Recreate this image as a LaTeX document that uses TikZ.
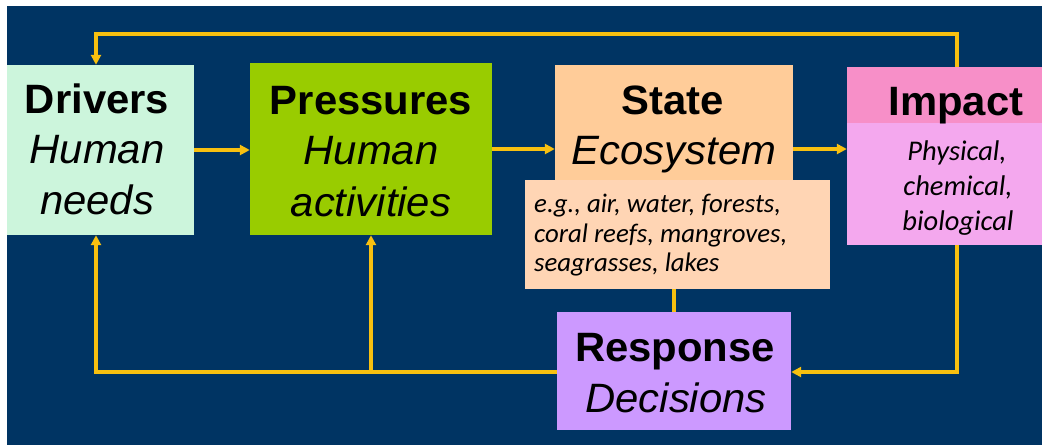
\documentclass[tikz,border=0pt]{standalone}
\usepackage{fontspec}
\setmainfont{Liberation Sans}
\newfontfamily\hf[FakeStretch=1.02]{Liberation Sans}
\newfontfamily\cf{Carlito}
\usetikzlibrary{arrows.meta}
\definecolor{bgc}{HTML}{003463}
\definecolor{drvc}{HTML}{CCF5DC}
\definecolor{prsc}{HTML}{99CC00}
\definecolor{stc}{HTML}{FFCC99}
\definecolor{egc}{HTML}{FFD5B4}
\definecolor{imphc}{HTML}{F78FC8}
\definecolor{impbc}{HTML}{F4A8EE}
\definecolor{rspc}{HTML}{CC99FF}
\definecolor{arrc}{HTML}{F8C010}
\begin{document}
\begin{tikzpicture}[x=1pt,y=-1pt,
  box/.style={draw=none, inner sep=0pt, rectangle},
  head/.style={inner sep=0pt, anchor=base, font=\hf\bfseries\fontsize{41}{48}\selectfont},
  sub/.style={inner sep=0pt, anchor=base, font=\hf\itshape\fontsize{41}{48}\selectfont},
  small/.style={inner sep=0pt, font=\cf\itshape\fontsize{26.8}{30}\selectfont},
  imps/.style={inner sep=0pt, anchor=base, font=\cf\itshape\fontsize{28.5}{30}\selectfont},
  conn/.style={draw=arrc, line width=3.5pt},
  arr/.style={conn, -{Triangle[length=10pt,width=10pt]}}
]
\useasboundingbox (0,0) rectangle (1042,445);
\fill[white] (0,0) rectangle (1042,445);
\fill[bgc] (7,6) rectangle (1042,445);

% boxes
\node[box, fill=drvc, minimum width=187pt, minimum height=170pt] (drv) at (100.5,150) {};
\node[box, fill=prsc, minimum width=242pt, minimum height=172pt] (prs) at (371,149) {};
\node[box, fill=stc, minimum width=238pt, minimum height=125pt] (st) at (674,127.5) {};
\node[box, fill=egc, minimum width=305pt, minimum height=109pt] (eg) at (677.5,234.5) {};
\node[box, fill=impbc, minimum width=195pt, minimum height=178pt] (imp) at (944.5,156) {};
\node[box, fill=imphc, minimum width=195pt, minimum height=56pt] (imph) at (944.5,95) {};
\node[box, fill=rspc, minimum width=234pt, minimum height=118pt] (rsp) at (674,371) {};

% texts
\node[head] (t1) at (97,113) {Drivers};
\node[sub]  (t2) at (97,163) {Human};
\node[sub]  (t3) at (97,214) {needs};
\node[head] (t4) at (371,114) {Pressures};
\node[sub]  (t5) at (371,164) {Human};
\node[sub]  (t6) at (371,216) {activities};
\node[head] (t7) at (673,114) {State};
\node[sub]  (t8) at (674,164) {Ecosystem};
\node[small, anchor=base west] (t9) at (534,212) {e.g., air, water, forests,};
\node[small, anchor=base west] (t10) at (534,242) {coral reefs, mangroves,};
\node[small, anchor=base west] (t11) at (534,271) {seagrasses, lakes};
\node[head] (t12) at (956,115) {Impact};
\node[imps] (t13) at (957,160) {Physical,};
\node[imps] (t14) at (958,195) {chemical,};
\node[imps] (t15) at (958,230) {biological};
\node[head] (t16) at (675,361) {Response};
\node[sub]  (t17) at (676,412) {Decisions};

% connector corners
\coordinate (tr) at (957,34);
\coordinate (tl) at (96,34);
\coordinate (br) at (957,372);
\coordinate (bl) at (96,372);
\coordinate (bm) at (371,372);

% connectors
\draw[arr] (tr |- imph.north) -- (tr) -- (tl) -- (tl |- drv.north);
\draw[arr] (drv.east) -- (drv.east -| prs.west);
\draw[arr] (prs.east) -- (prs.east -| st.west);
\draw[arr] (prs.east -| st.east) -- (prs.east -| imp.west);
\draw[arr] (br |- imp.south) -- (br) -- (br -| rsp.east);
\draw[arr] (rsp.west |- bl) -- (bl) -- (bl |- drv.south);
\draw[arr] (bm) -- (bm |- prs.south);
\draw[conn] (eg.south -| rsp.north) -- (rsp.north);
\end{tikzpicture}
\end{document}
